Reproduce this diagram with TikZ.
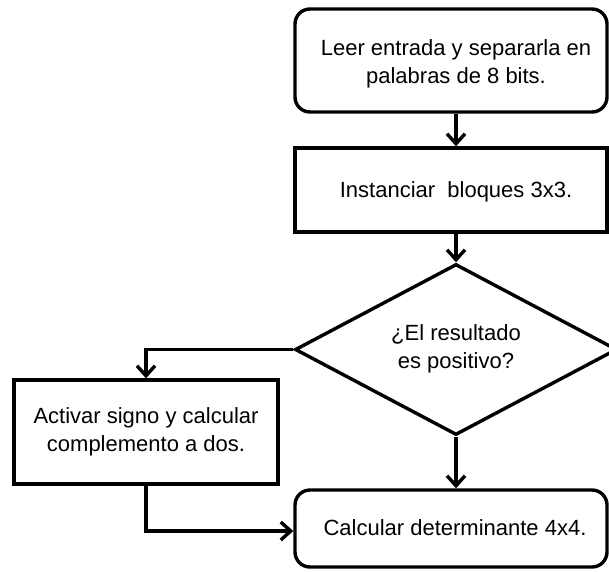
\documentclass[tikz,border=0pt]{standalone}
\usepackage{fontspec}
\setmainfont{Liberation Sans}
\usetikzlibrary{shapes.geometric,arrows.meta}
\begin{document}
\begin{tikzpicture}[x=1pt,y=-1pt,
  every node/.style={font=\fontsize{22}{28}\selectfont, align=center, inner sep=0pt},
  rbox/.style={draw, line width=3.4pt, rounded corners=15pt, minimum width=312pt},
  sbox/.style={draw, line width=3.4pt, minimum width=312pt},
  dec/.style={draw, line width=3.4pt, diamond, minimum width=322pt, minimum height=171pt, aspect=1.88},
  flow/.style={line width=3.4pt, -{Straight Barb[length=10pt,width=18pt,line width=3.4pt]}}]
\useasboundingbox (0,0) rectangle (609,571);
\node[rbox, minimum height=103pt] (b1) at (451,60.5) {};
\node at (456,64) {Leer entrada y separarla en\\palabras de 8 bits.};
\node[sbox, minimum height=84pt] (b2) at (451,190) {};
\node at (456,192) {Instanciar\ \ bloques 3x3.};
\node[dec] (d) at (456,349.5) {};
\node at (456,349) {¿El resultado\\es positivo?};
\node[sbox, minimum width=264pt, minimum height=104pt] (b3) at (146,432) {Activar signo y calcular\\complemento a dos.};
\node[rbox, minimum height=77pt] (b4) at (451,528.5) {};
\node at (455,528) {Calcular determinante 4x4.};
\coordinate (c1) at (146,349.5);
\coordinate (c2) at (146,531);
\draw[flow] ([xshift=5pt]b1.south) -- ([xshift=5pt]b2.north);
\draw[flow] ([xshift=5pt]b2.south) -- (d.north);
\draw[flow] (d.west) -- (c1) -- (b3.north);
\draw[flow] (d.south) -- (d.south |- b4.north);
\draw[flow] (b3.south) -- (c2) -- (c2 -| b4.west);
\end{tikzpicture}
\end{document}
